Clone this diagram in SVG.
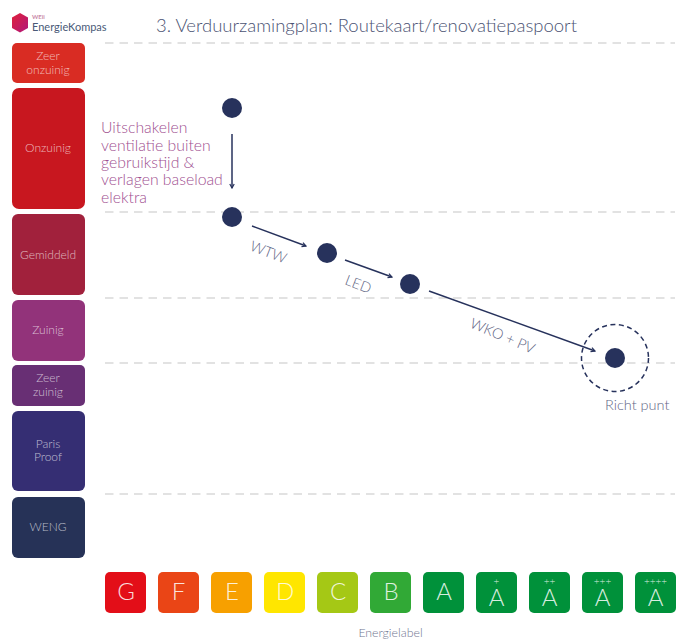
<svg xmlns="http://www.w3.org/2000/svg" width="680" height="639" viewBox="0 0 680 639">
<defs>
<marker id="ah" viewBox="0 0 6 6" refX="5" refY="3" markerWidth="6" markerHeight="6" markerUnits="userSpaceOnUse" orient="auto"><path d="M1 .8L5 3L1 5.2" fill="none" stroke="#27325c" stroke-width="1.2"/></marker>
<linearGradient id="lg" x1="0" y1="0" x2="1" y2="1"><stop offset="0" stop-color="#e0203a"/><stop offset="1" stop-color="#b0187c"/></linearGradient>
</defs>
<style>
text{font-family:"Lato","Open Sans","Liberation Sans",sans-serif;font-weight:300}
.g{stroke:#d9d9d9;stroke-width:1.3;stroke-dasharray:8.5 6}
.c{stroke:#27325c;stroke-width:1.5;fill:none;marker-end:url(#ah)}
.d{fill:#27325c}
.s{font-size:12px;text-anchor:middle;fill-opacity:.68;fill:#fff}
.l{font-size:24px;text-anchor:middle;fill:#fff;fill-opacity:.85}
.p{font-size:10px;text-anchor:middle;fill:#fff;fill-opacity:.85}
.e{font-size:14.5px;fill:#5f6685}
.m{font-size:15.8px;fill:#a04f90}
</style>
<rect width="680" height="639" fill="#fff"/>
<text x="156" y="32" font-size="18.5" fill="#4b5373">3. Verduurzamingplan: Routekaart/renovatiepaspoort</text>
<g id="logo">
<polygon points="20,13 28,17.500 28,28 20,32.500 12,28 12,17.500" fill="url(#lg)"/>
<text x="32" y="19" font-size="6" fill="#c98aa8" style="font-weight:700">WEii</text>
<text x="32" y="31" font-size="11" fill="#4a5a78" style="font-weight:400">EnergieKompas</text>
</g>
<g id="grid">
<line class="g" x1="105" y1="43" x2="675" y2="43"/>
<line class="g" x1="105" y1="212" x2="675" y2="212"/>
<line class="g" x1="105" y1="298" x2="675" y2="298"/>
<line class="g" x1="105" y1="363" x2="675" y2="363"/>
<line class="g" x1="105" y1="494" x2="675" y2="494"/>
</g>
<g id="cat-zeer-onzuinig"><rect x="12" y="43" width="73" height="40" rx="5" fill="#d92c23"/><text class="s" x="48" y="60">Zeer</text><text class="s" x="48" y="74">onzuinig</text></g>
<g id="cat-onzuinig"><rect x="12" y="88" width="73" height="121" rx="7" fill="#c8171f"/><text class="s" x="48" y="152">Onzuinig</text></g>
<g id="cat-gemiddeld"><rect x="12" y="214" width="73" height="81" rx="6" fill="#a1213c"/><text class="s" x="48" y="259">Gemiddeld</text></g>
<g id="cat-zuinig"><rect x="12" y="300" width="73" height="61" rx="6" fill="#92337a"/><text class="s" x="48" y="334">Zuinig</text></g>
<g id="cat-zeer-zuinig"><rect x="12" y="365" width="73" height="41" rx="5" fill="#682f74"/><text class="s" x="48" y="382">Zeer</text><text class="s" x="48" y="396">zuinig</text></g>
<g id="cat-paris-proof"><rect x="12" y="411" width="73" height="80" rx="6" fill="#352e73"/><text class="s" x="48" y="448">Paris</text><text class="s" x="48" y="461">Proof</text></g>
<g id="cat-weng"><rect x="12" y="497" width="73" height="61" rx="6" fill="#263257"/><text class="s" x="48" y="531">WENG</text></g>
<g id="connectors">
<line class="c" x1="232" y1="134" x2="232" y2="188"/>
<line class="c" x1="252" y1="226" x2="306" y2="246"/>
<line class="c" x1="345" y1="260" x2="392" y2="277"/>
<line class="c" x1="429" y1="291" x2="595" y2="351"/>
</g>
<g id="node-1"><circle class="d" cx="232" cy="108" r="10"/></g>
<g id="node-2"><circle class="d" cx="232" cy="217" r="10"/></g>
<g id="node-3"><circle class="d" cx="327" cy="253" r="10"/></g>
<g id="node-4"><circle class="d" cx="410" cy="284" r="10"/></g>
<g id="node-target"><circle cx="615" cy="358" r="33.500" fill="none" stroke="#27325c" stroke-width="1.5" stroke-dasharray="5 3.500"/><circle class="d" cx="615" cy="358" r="10"/></g>
<text class="m" x="101" y="133">Uitschakelen</text>
<text class="m" x="101" y="151">ventilatie buiten</text>
<text class="m" x="101" y="168">gebruikstijd &amp;</text>
<text class="m" x="101" y="185">verlagen baseload</text>
<text class="m" x="101" y="203">elektra</text>
<text class="e" transform="translate(249 250) rotate(21)">WTW</text>
<text class="e" transform="translate(344 284) rotate(21)">LED</text>
<text class="e" transform="translate(469 327) rotate(23)">WKO + PV</text>
<text class="e" x="605" y="410">Richt punt</text>
<g id="label-G"><rect x="105" y="572" width="41" height="41" rx="5" fill="#e30e18"/><text class="l" x="126" y="600">G</text></g>
<g id="label-F"><rect x="158" y="572" width="41" height="41" rx="5" fill="#ea4516"/><text class="l" x="178.500" y="600">F</text></g>
<g id="label-E"><rect x="211" y="572" width="41" height="41" rx="5" fill="#f7a000"/><text class="l" x="232" y="600">E</text></g>
<g id="label-D"><rect x="264" y="572" width="41" height="41" rx="5" fill="#ffe600"/><text class="l" x="285" y="600">D</text></g>
<g id="label-C"><rect x="317" y="572" width="41" height="41" rx="5" fill="#a5c815"/><text class="l" x="338" y="600">C</text></g>
<g id="label-B"><rect x="370" y="572" width="41" height="41" rx="5" fill="#31a936"/><text class="l" x="391" y="600">B</text></g>
<g id="label-A"><rect x="423" y="572" width="41" height="41" rx="5" fill="#00913a"/><text class="l" x="444" y="600">A</text></g>
<g id="label-A1"><rect x="476" y="572" width="41" height="41" rx="5" fill="#00913a"/><text class="p" x="496.500" y="585">+</text><text class="l" x="496.500" y="606">A</text></g>
<g id="label-A2"><rect x="529" y="572" width="41" height="41" rx="5" fill="#00913a"/><text class="p" x="549.500" y="585">++</text><text class="l" x="549.500" y="606">A</text></g>
<g id="label-A3"><rect x="582" y="572" width="41" height="41" rx="5" fill="#00913a"/><text class="p" x="602.500" y="585">+++</text><text class="l" x="602.500" y="606">A</text></g>
<g id="label-A4"><rect x="635" y="572" width="41" height="41" rx="5" fill="#00913a"/><text class="p" x="655.500" y="585">++++</text><text class="l" x="655.500" y="606">A</text></g>
<text x="390.500" y="637" font-size="12.300" text-anchor="middle" fill="#6f7590">Energielabel</text>
</svg>
